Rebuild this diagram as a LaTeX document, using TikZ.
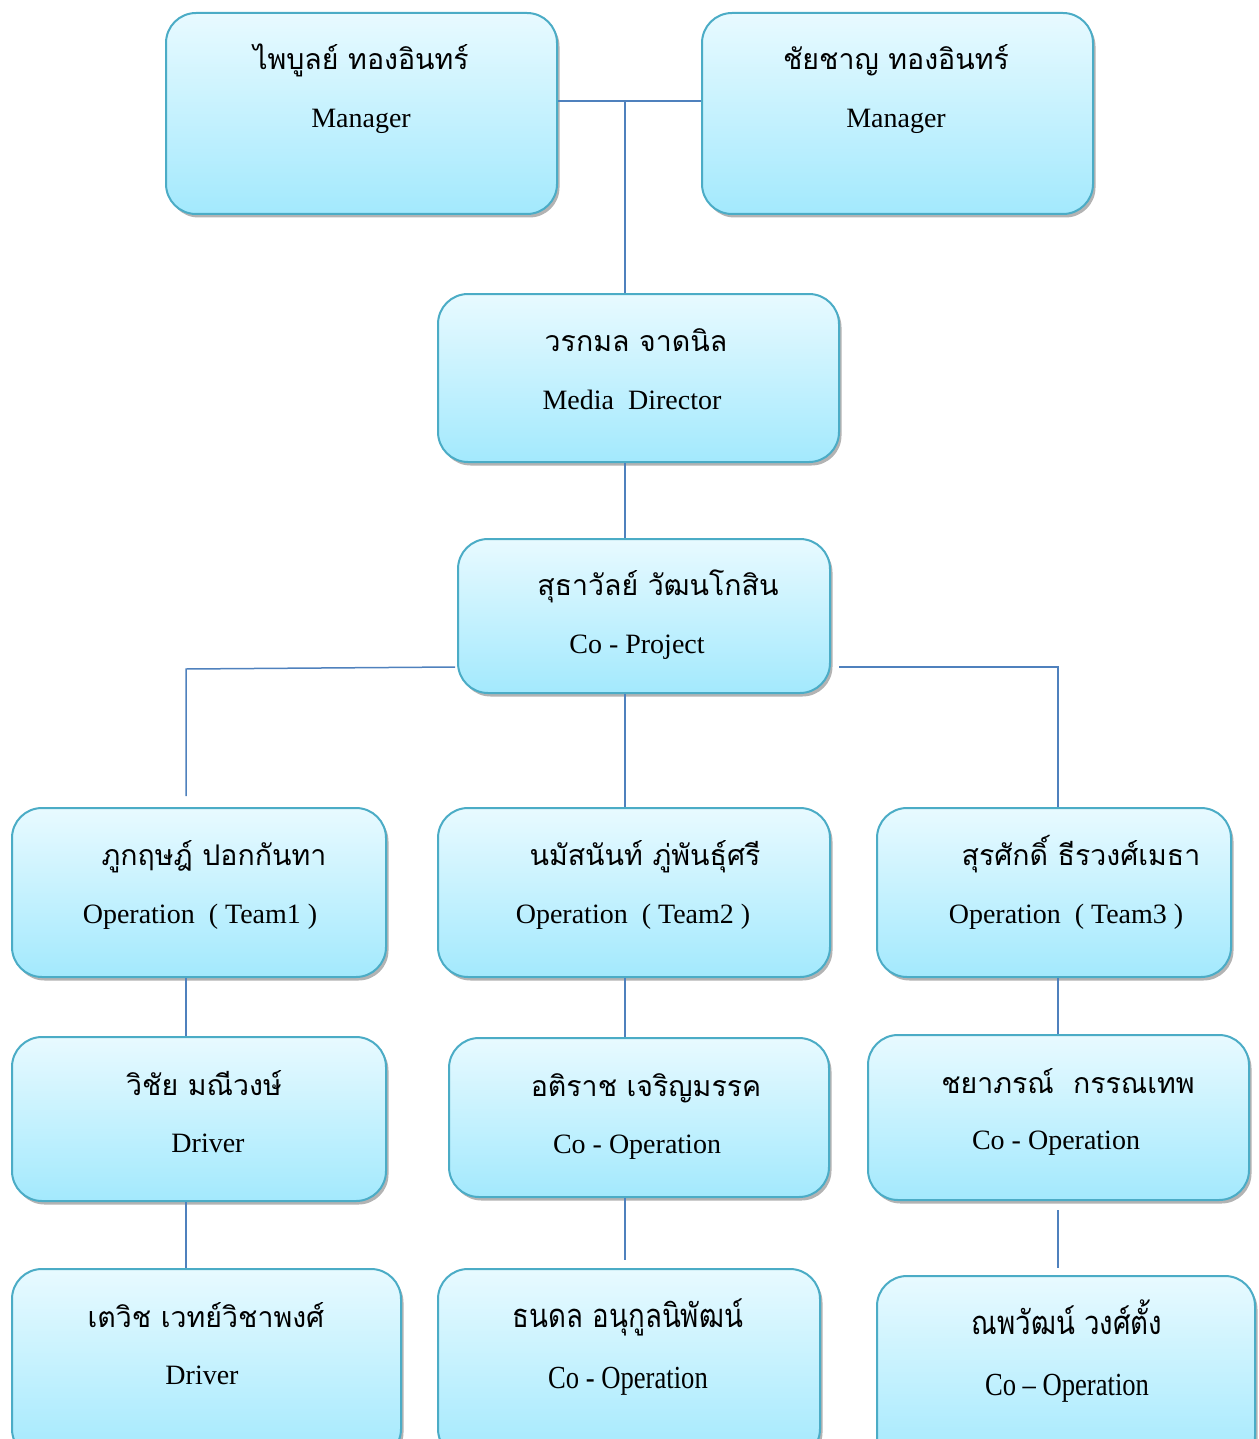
\documentclass[tikz,border=0pt]{standalone}
\usepackage{fontspec}
\setmainfont{Liberation Serif}
\newfontfamily\thaifont[Script=Thai]{Loma}
\usetikzlibrary{shadows,calc}
\definecolor{boxline}{HTML}{4BACC6}
\definecolor{boxtop}{HTML}{E8FAFF}
\definecolor{boxbot}{HTML}{A3E9FD}
\definecolor{connc}{HTML}{4F81BD}
\tikzset{
  orgbox/.style={draw=boxline, line width=2pt, rounded corners=30pt,
    top color=boxtop, bottom color=boxbot, inner sep=0pt, anchor=north west,
    drop shadow={shadow xshift=2.5pt, shadow yshift=-3.5pt, opacity=0.6}},
  conn/.style={draw=connc, line width=1.5pt},
  thtext/.style={font=\thaifont\fontsize{28.5}{30}\selectfont, anchor=base, inner sep=0pt},
  entext/.style={font=\fontsize{28}{30}\selectfont, anchor=base, inner sep=0pt},
}
\begin{document}
\begin{tikzpicture}[x=1pt,y=-1pt]
\useasboundingbox (0,0) rectangle (1258,1439);
\clip (0,0) rectangle (1258,1439);
% boxes
\node[orgbox, minimum width=391pt, minimum height=201pt] (b1) at (165,12) {};
\node[orgbox, minimum width=391pt, minimum height=201pt] (b2) at (701,12) {};
\node[orgbox, minimum width=401pt, minimum height=168pt] (md) at (437,293) {};
\node[orgbox, minimum width=372pt, minimum height=154pt] (cp) at (457,538) {};
\node[orgbox, minimum width=374pt, minimum height=169pt] (t1) at (11,807) {};
\node[orgbox, minimum width=392pt, minimum height=169pt] (t2) at (437,807) {};
\node[orgbox, minimum width=354pt, minimum height=169pt] (t3) at (876,807) {};
\node[orgbox, minimum width=374pt, minimum height=164pt] (d1) at (11,1036) {};
\node[orgbox, minimum width=380pt, minimum height=159pt] (a2) at (448,1037) {};
\node[orgbox, minimum width=381pt, minimum height=165pt] (c3) at (867,1034) {};
\node[orgbox, minimum width=389pt, minimum height=190pt] (d2) at (11,1268) {};
\node[orgbox, minimum width=382pt, minimum height=190pt] (n2) at (437,1268) {};
\node[orgbox, minimum width=378pt, minimum height=190pt] (n3) at (876,1275) {};
% texts
\node[thtext] (b1a) at (361,70) {ไพบูลย์ ทองอินทร์};
\node[entext] (b1b) at (361,128) {Manager};
\node[thtext] (b2a) at (896,70) {ชัยชาญ ทองอินทร์};
\node[entext] (b2b) at (896,128) {Manager};
\node[thtext] (mda) at (636,351) {วรกมล จาดนิล};
\node[entext] (mdb) at (632,409) {Media\ \ Director};
\node[thtext] (cpa) at (658,595) {สุธาวัลย์ วัฒนโกสิน};
\node[entext] (cpb) at (637,653) {Co - Project};
\node[thtext] (t1a) at (214,865) {ภูกฤษฎ์ ปอกกันทา};
\node[entext] (t1b) at (200,923) {Operation\ \ ( Team1 )};
\node[thtext] (t2a) at (645,865) {นมัสนันท์ ภู่พันธุ์ศรี};
\node[entext] (t2b) at (633,923) {Operation\ \ ( Team2 )};
\node[thtext] (t3a) at (1081,865) {สุรศักดิ์ ธีรวงศ์เมธา};
\node[entext] (t3b) at (1066,923) {Operation\ \ ( Team3 )};
\node[thtext] (d1a) at (204,1095) {วิชัย มณีวงษ์};
\node[entext] (d1b) at (208,1152) {Driver};
\node[thtext] (a2a) at (646,1096) {อติราช เจริญมรรค};
\node[entext] (a2b) at (637,1153) {Co - Operation};
\node[thtext] (c3a) at (1068,1093) {ชยาภรณ์\ \ กรรณเทพ};
\node[entext] (c3b) at (1056,1149) {Co - Operation};
\node[thtext] (d2a) at (206,1327) {เตวิช เวทย์วิชาพงศ์};
\node[entext] (d2b) at (202,1384) {Driver};
\node[thtext] (n2a) at (628,1327) {\scalebox{0.97}[1.15]{ธนดล อนุกูลนิพัฒน์}};
\node[entext] (n2b) at (628,1388) {\scalebox{0.95}[1.15]{Co - Operation}};
\node[thtext] (n3a) at (1067,1334) {\scalebox{0.97}[1.15]{ณพวัฒน์ วงศ์ตั้ง}};
\node[entext] (n3b) at (1067,1395) {\scalebox{0.95}[1.15]{Co – Operation}};
% connectors
\coordinate (j1) at (625,101);
\coordinate (cL) at (186,0);
\coordinate (cR) at (1058,0);
\coordinate (cpL) at (455,667);
\coordinate (jL) at (186,669);
\coordinate (t1end) at (186,796);
\coordinate (cpR) at (839,667);
\coordinate (jR) at (1058,667);
\coordinate (n2end) at (625,1260);
\coordinate (c3end) at (1058,1210);
\coordinate (n3end) at (1058,1268);
\draw[conn] (b1.east |- j1) -- (b2.west |- j1);
\draw[conn] (j1) -- (j1 |- md.north);
\draw[conn] (j1 |- md.south) -- (j1 |- cp.north);
\draw[conn] (j1 |- cp.south) -- (j1 |- t2.north);
\draw[conn] (cpL) -- (jL) -- (t1end);
\draw[conn] (cpR) -- (jR) -- (jR |- t3.north);
\draw[conn] (cL |- t1.south) -- (cL |- d1.north);
\draw[conn] (j1 |- t2.south) -- (j1 |- a2.north);
\draw[conn] (cR |- t3.south) -- (cR |- c3.north);
\draw[conn] (cL |- d1.south) -- (cL |- d2.north);
\draw[conn] (j1 |- a2.south) -- (n2end);
\draw[conn] (c3end) -- (n3end);
\end{tikzpicture}
\end{document}
